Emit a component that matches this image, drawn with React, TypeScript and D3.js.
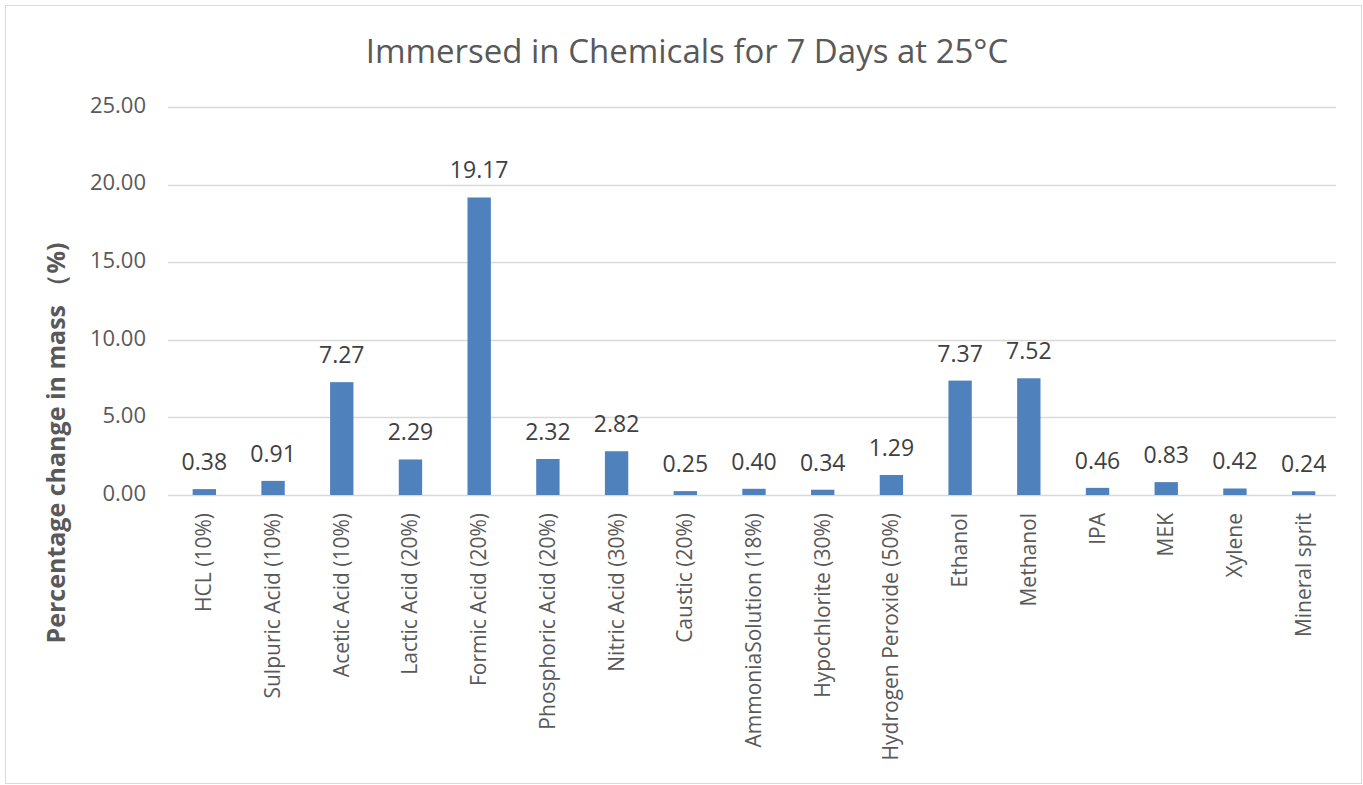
import React from "react";
import * as d3 from "d3";

const categories = [
  "HCL (10%)", "Sulpuric Acid (10%)", "Acetic Acid (10%)", "Lactic Acid (20%)",
  "Formic Acid (20%)", "Phosphoric Acid (20%)", "Nitric Acid (30%)", "Caustic (20%)",
  "AmmoniaSolution (18%)", "Hypochlorite (30%)", "Hydrogen Peroxide (50%)", "Ethanol",
  "Methanol", "IPA", "MEK", "Xylene", "Mineral sprit",
];
const values = [0.38, 0.91, 7.27, 2.29, 19.17, 2.32, 2.82, 0.25, 0.4, 0.34, 1.29, 7.37, 7.52, 0.46, 0.83, 0.42, 0.24];
const yTicks = [0, 5, 10, 15, 20, 25];

const W = 1363, H = 785;
const M = { left: 168, right: 1336, top: 107, bottom: 495 };
const FONT = "'Open Sans', 'Noto Sans', sans-serif";

export default function App() {
  const x = d3.scaleBand<string>().domain(categories).range([M.left + 2, M.right + 2]).paddingInner(0.66).paddingOuter(0.33);
  const y = d3.scaleLinear().domain([0, 25]).range([M.bottom, M.top]);
  const fmt = d3.format(".2f");
  return (
    <svg width={W} height={H} style={{ position: "absolute", left: 0, top: 0 }}>
      <rect x={0} y={0} width={W} height={H} fill="#fff" />
      <rect x={5.5} y={5.5} width={1356} height={778} fill="none" stroke="#d9d9d9" />
      <text x={687} y={63} textAnchor="middle" fontFamily={FONT} fontSize={33} fill="#595959">
        Immersed in Chemicals for 7 Days at 25°C
      </text>
      {yTicks.map((t) => (
        <g key={t}>
          <line x1={M.left} x2={M.right} y1={Math.round(y(t)) + 0.5} y2={Math.round(y(t)) + 0.5} stroke="#d9d9d9" strokeWidth={1.3} />
          <text x={146} y={y(t) - 2} dy="0.35em" textAnchor="end" fontFamily={FONT} fontSize={22} fill="#595959">
            {fmt(t)}
          </text>
        </g>
      ))}
      <text transform={`translate(65,443) rotate(-90)`} textAnchor="middle" fontFamily={FONT} fontSize={25} fontWeight="bold" fill="#595959">
        Percentage change in mass （%)
      </text>
      {categories.map((c, i) => {
        const bx = x(c)!;
        const cx = bx + x.bandwidth() / 2;
        return (
          <g key={c}>
            <rect x={bx} y={y(values[i])} width={x.bandwidth()} height={y(0) - y(values[i])} fill="#4f81bd" />
            <text x={cx} y={y(values[i]) - 19} textAnchor="middle" fontFamily={FONT} fontSize={23} fill="#404040">
              {fmt(values[i])}
            </text>
            <text transform={`translate(${cx + 7},513) rotate(-90)`} textAnchor="end" fontFamily={FONT} fontSize={21} fill="#595959">
              {c}
            </text>
          </g>
        );
      })}
    </svg>
  );
}
